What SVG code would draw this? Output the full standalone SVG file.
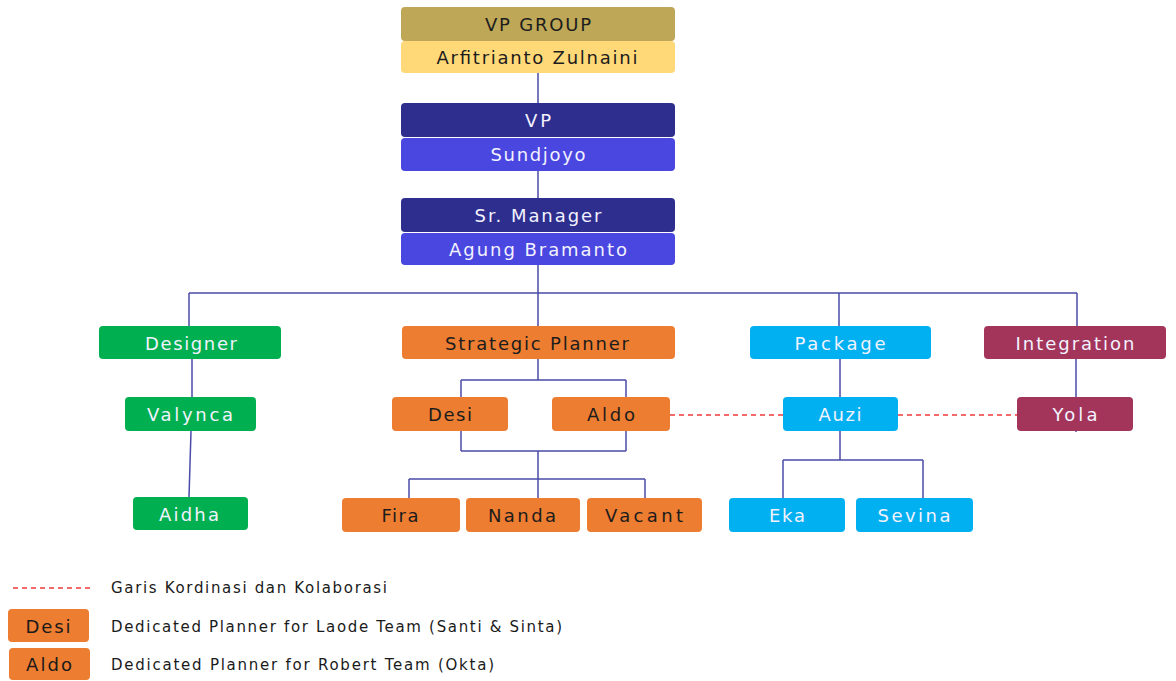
<svg xmlns="http://www.w3.org/2000/svg" width="1176" height="681" viewBox="0 0 1176 681">
<style>
text{font-family:"DejaVu Sans","Liberation Sans",sans-serif;font-size:18px;text-anchor:middle}
.lg text{text-anchor:start;font-size:15px;fill:#1a1a1a}
.dk{fill:#1c1c1c}
.lt{fill:#f2f2ff}
.gold{fill:#BEA756}
.yel{fill:#FFD978}
.navy{fill:#2E2E8E}
.blu{fill:#4A46E0}
.grn{fill:#00B050}
.org{fill:#ED7D31}
.cyn{fill:#00B0F0}
.mar{fill:#A3355B}
.conn{fill:none;stroke:#4B4BA8;stroke-width:1.5}
.dash{fill:none;stroke:#F03A3A;stroke-width:1.5;stroke-dasharray:5 4}
</style>
<rect width="1176" height="681" fill="#ffffff"/>
<g id="connectors">
<path class="conn" d="M538 73V103M538 171V198M538 265V293M189 293H1077M189 293V326M538 293V326M839 293V326M1077 293V326"/>
<path class="conn" d="M192 359V397"/>
<path class="conn" d="M191 431L189 497" stroke="#8A8AC8"/>
<path class="conn" d="M538 359V380M461 380H626M461 380V397M626 380V397M461 431V451M626 431V451M461 451H626M538 451V498M409 479H645M409 479V498M645 479V498"/>
<path class="conn" d="M840 359V397M840 431V460M783 460H923M783 460V498M923 460V498"/>
<path class="conn" d="M1076 359V432"/>
<path class="dash" d="M670 415H783M898 415H1017"/>
</g>
<g id="vpgroup">
<rect class="gold" x="401" y="7" width="274" height="34" rx="4"/>
<text class="dk" x="538" y="31" textLength="106" lengthAdjust="spacing">VP GROUP</text>
<rect class="yel" x="401" y="41" width="274" height="32" rx="4"/>
<text class="dk" x="537" y="64" textLength="201" lengthAdjust="spacing">Arfitrianto Zulnaini</text>
</g>
<g id="vp">
<rect class="navy" x="401" y="103" width="274" height="34" rx="4"/>
<text class="lt" x="538" y="127" textLength="26" lengthAdjust="spacing">VP</text>
<rect class="blu" x="401" y="138" width="274" height="33" rx="4"/>
<text class="lt" x="538" y="161" textLength="95" lengthAdjust="spacing">Sundjoyo</text>
</g>
<g id="srmanager">
<rect class="navy" x="401" y="198" width="274" height="34" rx="4"/>
<text class="lt" x="538" y="222" textLength="127" lengthAdjust="spacing">Sr. Manager</text>
<rect class="blu" x="401" y="233" width="274" height="32" rx="4"/>
<text class="lt" x="538" y="256" textLength="178" lengthAdjust="spacing">Agung Bramanto</text>
</g>
<g id="designer">
<rect class="grn" x="99" y="326" width="182" height="33" rx="4"/>
<text class="lt" x="191" y="350" textLength="92" lengthAdjust="spacing">Designer</text>
</g>
<g id="strategic">
<rect class="org" x="402" y="326" width="273" height="33" rx="4"/>
<text class="dk" x="537" y="350" textLength="184" lengthAdjust="spacing">Strategic Planner</text>
</g>
<g id="package">
<rect class="cyn" x="750" y="326" width="181" height="33" rx="4"/>
<text class="lt" x="840" y="350" textLength="91" lengthAdjust="spacing">Package</text>
</g>
<g id="integration">
<rect class="mar" x="984" y="326" width="182" height="33" rx="4"/>
<text class="lt" x="1075" y="350" textLength="119" lengthAdjust="spacing">Integration</text>
</g>
<g id="valynca">
<rect class="grn" x="125" y="397" width="131" height="34" rx="4"/>
<text class="lt" x="190" y="421" textLength="86" lengthAdjust="spacing">Valynca</text>
</g>
<g id="aidha">
<rect class="grn" x="133" y="497" width="115" height="33" rx="4"/>
<text class="lt" x="189" y="521" textLength="60" lengthAdjust="spacing">Aidha</text>
</g>
<g id="desi">
<rect class="org" x="392" y="397" width="116" height="34" rx="4"/>
<text class="dk" x="450" y="421" textLength="44" lengthAdjust="spacing">Desi</text>
</g>
<g id="aldo">
<rect class="org" x="552" y="397" width="118" height="34" rx="4"/>
<text class="dk" x="611" y="421" textLength="48" lengthAdjust="spacing">Aldo</text>
</g>
<g id="auzi">
<rect class="cyn" x="783" y="397" width="115" height="34" rx="4"/>
<text class="lt" x="840" y="421" textLength="43" lengthAdjust="spacing">Auzi</text>
</g>
<g id="yola">
<rect class="mar" x="1017" y="397" width="116" height="34" rx="4"/>
<text class="lt" x="1075" y="421" textLength="45" lengthAdjust="spacing">Yola</text>
</g>
<g id="fira">
<rect class="org" x="342" y="498" width="118" height="34" rx="4"/>
<text class="dk" x="400" y="522" textLength="37" lengthAdjust="spacing">Fira</text>
</g>
<g id="nanda">
<rect class="org" x="466" y="498" width="114" height="34" rx="4"/>
<text class="dk" x="522" y="522" textLength="68" lengthAdjust="spacing">Nanda</text>
</g>
<g id="vacant">
<rect class="org" x="587" y="498" width="115" height="34" rx="4"/>
<text class="dk" x="644" y="522" textLength="78" lengthAdjust="spacing">Vacant</text>
</g>
<g id="eka">
<rect class="cyn" x="729" y="498" width="116" height="34" rx="4"/>
<text class="lt" x="787" y="522" textLength="36" lengthAdjust="spacing">Eka</text>
</g>
<g id="sevina">
<rect class="cyn" x="856" y="498" width="117" height="34" rx="4"/>
<text class="lt" x="914" y="522" textLength="73" lengthAdjust="spacing">Sevina</text>
</g>
<g id="legend" class="lg">
<path class="dash" d="M13 588H91"/>
<text x="111" y="593" textLength="276" lengthAdjust="spacing">Garis Kordinasi dan Kolaborasi</text>
<rect class="org" x="8" y="609" width="81" height="33" rx="4"/>
<text class="dk" x="48" y="633" style="text-anchor:middle;font-size:18px" textLength="45" lengthAdjust="spacing">Desi</text>
<text x="111" y="632" textLength="451" lengthAdjust="spacing">Dedicated Planner for Laode Team (Santi &amp; Sinta)</text>
<rect class="org" x="9" y="648" width="81" height="32" rx="4"/>
<text class="dk" x="49" y="671" style="text-anchor:middle;font-size:18px" textLength="46" lengthAdjust="spacing">Aldo</text>
<text x="111" y="670" textLength="383" lengthAdjust="spacing">Dedicated Planner for Robert Team (Okta)</text>
</g>
</svg>
